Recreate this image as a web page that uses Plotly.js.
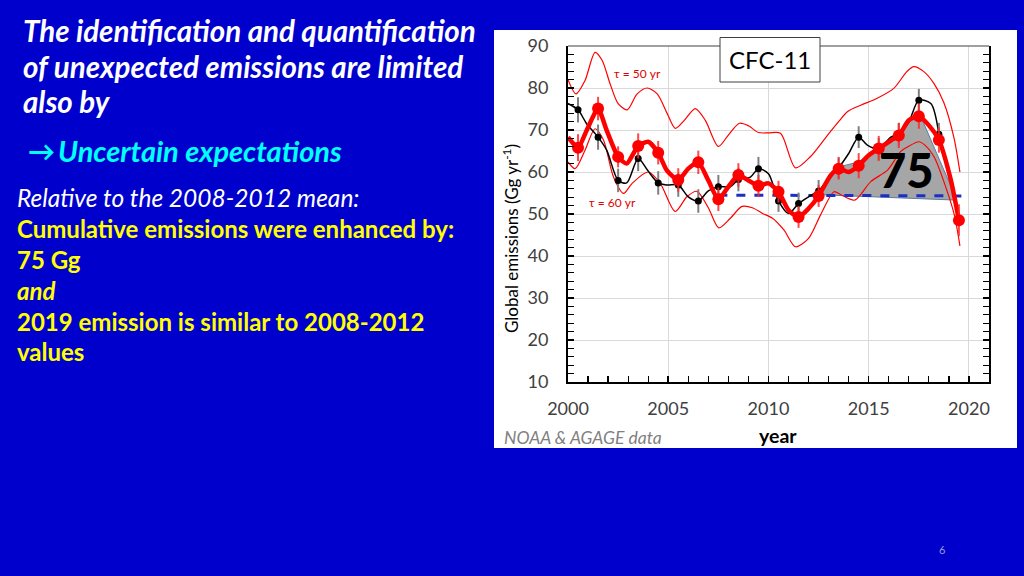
<!DOCTYPE html>
<html>
<head>
<meta charset="utf-8">
<script src="https://cdn.plot.ly/plotly-3.0.1.min.js"></script>
<style>
html,body{margin:0;padding:0;background:#0000CC;}
#chart{width:1024px;height:576px;}
</style>
</head>
<body>
<div id="chart"></div>
<script>
// ---------- data ----------
const pointYears = [2000.5,2001.5,2002.5,2003.5,2004.5,2005.5,2006.5,2007.5,2008.5,2009.5,2010.5,2011.5,2012.5,2013.5,2014.5,2015.5,2016.5,2017.5,2018.5,2019.5];
const redPoints  = [65.8,75.1,63.6,66.2,64.6,58.1,62.3,53.5,59.3,56.7,55.3,49.3,54.3,60.8,61.5,65.6,68.7,73.3,67.6,48.5];
const redErr     = [3.2,2.8,2.5,3.0,2.8,2.8,2.8,2.8,2.8,2.6,2.6,2.6,2.6,2.6,3.0,3.0,3.0,3.0,3.0,3.8];

const blackYears = [2000.5,2001.5,2002.5,2003.5,2004.5,2005.5,2006.5,2007.5,2008.5,2009.5,2010.5,2011.5,2012.5,2013.5,2014.5,2015.5,2016.5,2017.5,2018.5];
const blackPoints= [74.8,68.3,58.0,63.2,57.4,56.9,53.1,56.5,58.2,60.8,53.1,52.5,55.5,61.0,68.3,65.5,69.0,77.1,69.0];
const blackErr   = [3.0,3.0,2.8,3.0,2.8,2.8,2.8,2.8,2.8,2.8,2.6,2.6,2.6,2.6,2.6,2.6,2.7,2.7,2.7];

const redLineX = [2000.0,2000.5,2000.93,2001.5,2001.93,2002.5,2002.93,2003.5,2004.0,2004.5,2004.93,2005.5,2006.0,2006.5,2007.0,2007.5,2008.0,2008.5,2009.0,2009.5,2010.0,2010.5,2011.0,2011.5,2012.0,2012.5,2013.1,2013.5,2014.0,2014.5,2015.0,2015.5,2016.1,2016.5,2017.0,2017.5,2018.0,2018.5,2019.1,2019.5];
const redLineY = [68.3,65.8,69.9,75.1,69.9,63.6,62.0,66.2,67.2,64.6,60.4,58.1,60.8,62.3,58.0,53.5,56.5,59.3,58.0,56.7,57.3,55.3,50.9,49.3,51.3,54.3,59.2,60.8,60.0,61.5,64.0,65.6,67.5,68.7,72.3,73.3,71.1,67.6,58.0,48.5];

const blackLineX = [2000.0,2000.5,2000.93,2001.5,2001.93,2002.5,2002.93,2003.5,2003.97,2004.5,2004.93,2005.5,2006.0,2006.5,2007.0,2007.5,2008.1,2008.5,2009.1,2009.5,2010.0,2010.5,2011.0,2011.5,2012.0,2012.5,2012.93,2013.5,2014.0,2014.5,2014.93,2015.5,2016.1,2016.5,2017.0,2017.5,2018.1,2018.5];
const blackLineY = [76.3,74.8,71.5,68.3,65.2,58.0,57.4,63.2,60.4,57.4,56.9,56.9,54.1,53.1,55.5,56.5,56.5,58.2,58.8,60.8,59.6,53.1,50.1,52.5,54.1,55.5,58.0,61.0,64.4,68.3,66.4,65.5,68.3,69.1,71.9,77.1,76.3,69.0];

const upperX = [2000.0,2000.4,2000.85,2001.35,2001.7,2002.1,2002.5,2002.95,2003.45,2003.95,2004.45,2004.95,2005.35,2005.8,2006.35,2006.85,2007.5,2008.0,2008.55,2009.0,2009.5,2010.0,2010.6,2011.35,2012.1,2012.95,2013.5,2013.95,2014.6,2015.4,2016.25,2016.9,2017.25,2017.75,2018.25,2018.75,2019.25,2019.55];
const upperY = [82.0,78.6,81.8,88.5,86.6,81.0,76.3,74.8,78.6,80.0,78.6,73.9,70.4,72.3,75.1,72.3,66.1,68.8,71.6,71.0,69.4,69.3,69.2,61.0,63.7,68.8,72.0,74.4,75.9,77.5,79.9,83.9,85.1,83.9,81.1,76.5,68.2,60.0];

const lowerX = [2000.0,2000.35,2000.85,2001.35,2001.77,2002.27,2002.77,2003.2,2004.0,2004.6,2005.35,2005.93,2006.43,2007.0,2007.52,2008.1,2008.68,2009.2,2009.68,2010.2,2010.77,2011.35,2012.0,2012.6,2013.27,2013.6,2014.3,2015.1,2015.95,2016.6,2016.95,2017.5,2017.8,2018.27,2018.8,2019.27,2019.55];
const lowerY = [62.4,60.8,65.2,70.3,67.6,58.8,54.9,57.3,60.0,57.3,50.6,54.1,55.4,51.5,46.7,49.0,51.8,51.5,50.2,49.0,46.2,42.2,44.2,49.8,55.3,54.6,53.3,57.7,60.5,64.9,66.0,67.2,66.4,63.5,57.0,49.8,42.4];

const meanX = [2007.5,2019.75];
const meanY = [54.5,54.3];

const fillX = [2012.5,2013.5,2014.5,2015.5,2016.5,2017.5,2019.4,2012.5];
const fillY = [54.3,61.2,62.4,66.0,69.5,74.3,53.3,54.6];

const xTicks = [2000,2005,2010,2015,2020];
const yTicks = [10,20,30,40,50,60,70,80,90];

// ---------- geometry ----------
const L=568, R=989, T=46, B=382;
const px = p => (p-L)/(R-L);
const py = p => (B-p)/(B-T);

const traces = [
  {x:fillX, y:fillY, type:'scatter', mode:'lines', fill:'toself', fillcolor:'#A6A6A6',
   line:{color:'#5A7EA6', width:1}, hoverinfo:'skip'},
  {x:upperX, y:upperY, type:'scatter', mode:'lines', line:{color:'#FF0000', width:1.2, shape:'spline', smoothing:0.8}},
  {x:lowerX, y:lowerY, type:'scatter', mode:'lines', line:{color:'#FF0000', width:1.2, shape:'spline', smoothing:0.8}},
  {x:meanX, y:meanY, type:'scatter', mode:'lines', line:{color:'#1C2FC4', width:3, dash:'dash'}},
  {x:blackLineX, y:blackLineY, type:'scatter', mode:'lines', line:{color:'#000000', width:1.5, shape:'spline', smoothing:0.8}},
  {x:blackYears, y:blackPoints, type:'scatter', mode:'markers',
   marker:{color:'#000000', size:7},
   error_y:{type:'data', array:blackErr, color:'#7F7F7F', thickness:2, width:0}},
  {x:redLineX, y:redLineY, type:'scatter', mode:'lines', line:{color:'#FF0000', width:4.5, shape:'spline', smoothing:0.6}},
  {x:pointYears, y:redPoints, type:'scatter', mode:'markers',
   marker:{color:'#FF0000', size:12},
   error_y:{type:'data', array:redErr, color:'rgba(255,40,40,0.85)', thickness:2, width:0}}
];

function ann(text, x, y, opts){
  return Object.assign({text:text, x:px(x), y:py(y), xref:'paper', yref:'paper', showarrow:false,
    xanchor:'left', yanchor:'middle'}, opts||{});
}
const F = 'Lato, "Open Sans", sans-serif';

const annotations = [
  ann('<b><i>The identification and quantification</i></b>', 21, 31, {font:{family:F, size:29.5, color:'#FFFFFF'}}),
  ann('<b><i>of unexpected emissions are limited</i></b>', 21, 66, {font:{family:F, size:29.5, color:'#FFFFFF'}}),
  ann('<b><i>also by</i></b>', 21, 101, {font:{family:F, size:29.5, color:'#FFFFFF'}}),
  ann('<b>→</b>', 26, 150, {font:{family:F, size:27, color:'#00FFFF'}}),
  ann('<b><i>Uncertain expectations</i></b>', 56, 150, {font:{family:F, size:29, color:'#00FFFF'}}),
  ann('<i>Relative to the 2008-2012 mean:</i>', 15, 197, {font:{family:F, size:24.5, color:'#FFFFFF'}}),
  ann('<b>Cumulative emissions were enhanced by:</b>', 15, 228, {font:{family:F, size:24, color:'#FFFF00'}}),
  ann('<b>75 Gg</b>', 15, 259, {font:{family:F, size:24, color:'#FFFF00'}}),
  ann('<b><i>and</i></b>', 15, 290, {font:{family:F, size:24, color:'#FFFF00'}}),
  ann('<b>2019 emission is similar to 2008-2012</b>', 15, 321, {font:{family:F, size:24, color:'#FFFF00'}}),
  ann('<b>values</b>', 15, 351, {font:{family:F, size:24, color:'#FFFF00'}}),
  ann('6', 942, 549, {xanchor:'center', font:{family:F, size:11, color:'#9A9AE0'}}),
  ann('<i>NOAA &amp; AGAGE data</i>', 502, 437, {font:{family:F, size:17.5, color:'#808080'}}),
  ann('<b>year</b>', 778, 435, {xanchor:'center', font:{family:F, size:19.5, color:'#000000'}}),
  ann('Global emissions (Gg yr<sup>-1</sup>)', 510, 239, {xanchor:'center', textangle:-90, font:{family:F, size:17, color:'#000000'}}),
  ann('CFC-11', 770, 60, {xanchor:'center', font:{family:F, size:24, color:'#000000'}}),
  ann('τ = 50 yr', 637, 73, {xanchor:'center', font:{family:F, size:12, color:'#E00000'}}),
  ann('τ = 60 yr', 612, 202, {xanchor:'center', font:{family:F, size:12, color:'#E00000'}}),
  ann('75', 906, 170, {xanchor:'center', font:{family:F, size:47, color:'#000000', weight:900}})
];

const shapes = [
  {type:'rect', xref:'paper', yref:'paper', x0:px(494), x1:px(1017), y0:py(448), y1:py(30),
   fillcolor:'#FFFFFF', line:{width:0}, layer:'below'},
  {type:'line', xref:'paper', yref:'paper', x0:0, x1:1, y0:1, y1:1, line:{color:'#7F7F7F', width:1.5}},
  {type:'rect', xref:'paper', yref:'paper', x0:px(720), x1:px(820), y0:py(82), y1:py(37.5),
   fillcolor:'#FFFFFF', line:{color:'#404040', width:1}, layer:'above'}
];

const axisCommon = {
  showline:true, linecolor:'#000000', linewidth:2,
  ticks:'inside', ticklen:6, tickwidth:1.5, tickcolor:'#000000',
  showgrid:true, gridcolor:'#D9D9D9', gridwidth:1, zeroline:false,
  tickfont:{family:F, size:18, color:'#404040'}
};

const layout = {
  width:1024, height:576,
  paper_bgcolor:'#0000CC', plot_bgcolor:'#FFFFFF',
  margin:{l:L, r:1024-R, t:T, b:576-B, pad:0},
  showlegend:false,
  xaxis: Object.assign({}, axisCommon, {range:[2000,2021], tickvals:xTicks, mirror:false,
    ticklabelstandoff:9,
    minor:{dtick:1, ticks:'inside', ticklen:6, tickwidth:1.2, tickcolor:'#000000', showgrid:false}}),
  yaxis: Object.assign({}, axisCommon, {range:[10,90], tickvals:yTicks, mirror:'ticks',
    ticklabelstandoff:14,
    minor:{dtick:2, ticks:'inside', ticklen:6, tickwidth:1.2, tickcolor:'#000000', showgrid:false}}),
  annotations:annotations,
  shapes:shapes
};

Plotly.newPlot('chart', traces, layout, {staticPlot:true, displayModeBar:false});
</script>
</body>
</html>
